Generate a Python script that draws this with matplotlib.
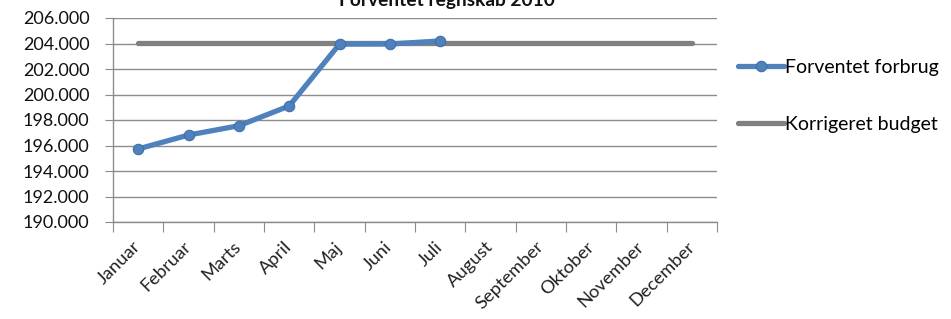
import matplotlib
matplotlib.use('Agg')
import matplotlib.pyplot as plt
from matplotlib.ticker import FuncFormatter, FixedLocator
import numpy as np

plt.rcParams['font.family'] = ['Lato', 'DejaVu Sans']

# data
months = ['Januar', 'Februar', 'Marts', 'April', 'Maj', 'Juni', 'Juli',
          'August', 'September', 'Oktober', 'November', 'December']
forbrug = [195730, 196820, 197550, 199100, 203950, 203960, 204200]
budget = [204070] * 12
y_ticks = [190000, 192000, 194000, 196000, 198000, 200000, 202000, 204000, 206000]

fig = plt.figure(figsize=(9.51, 3.19), dpi=100)
ax = fig.add_axes([113 / 951, 97 / 319, 604 / 951, 204 / 319])

x_all = np.arange(len(months))
ax.plot(x_all, budget, color='#808080', lw=3.8, solid_capstyle='round',
        label='Korrigeret budget', zorder=3)
ax.plot(x_all[:len(forbrug)], forbrug, color='#4F81BD', lw=3.8,
        marker='o', ms=7.5, mfc='#4F81BD', mec='#3F6FA8', mew=0.8,
        solid_capstyle='round', label='Forventet forbrug', zorder=4)

ax.set_xlim(-0.5, len(months) - 0.5)
ax.set_ylim(190000, 206000)
ax.set_yticks(y_ticks)
ax.yaxis.set_major_formatter(FuncFormatter(lambda v, p: f'{v:,.0f}'.replace(',', '.')))
ax.grid(axis='y', color='#8c8c8c', lw=1)
ax.set_axisbelow(True)

# category ticks between months, labels centered
ax.xaxis.set_major_locator(FixedLocator(np.arange(-0.5, len(months), 1)))
ax.xaxis.set_major_formatter(plt.NullFormatter())
ax.xaxis.set_minor_locator(FixedLocator(x_all))
ax.set_xticklabels(months, minor=True, rotation=45, ha='right', va='center',
                   rotation_mode='anchor', fontsize=13.2, color='#222222')
ax.tick_params(axis='x', which='minor', length=0, pad=16)
ax.tick_params(axis='x', which='major', length=7, color='#8c8c8c', direction='out')
ax.tick_params(axis='y', length=6, color='#8c8c8c', labelsize=13, labelcolor='#111111', pad=11)

for s in ['top', 'right']:
    ax.spines[s].set_visible(False)
for s in ['left', 'bottom']:
    ax.spines[s].set_color('#8c8c8c')
    ax.spines[s].set_linewidth(1)

handles, labels = ax.get_legend_handles_labels()
leg = fig.legend(handles[::-1], labels[::-1], loc='upper left',
                 bbox_to_anchor=(730 / 951, 1 - 51 / 319), frameon=False,
                 fontsize=14, handlelength=2.4, handletextpad=0.05,
                 labelspacing=2.05, borderaxespad=0)

fig.text(0.47, 1 - 6 / 319, 'Forventet regnskab 2010', ha='center', va='baseline',
         fontsize=13.8, fontweight='bold', color='#111111')

fig.savefig('out.png', dpi=100)
